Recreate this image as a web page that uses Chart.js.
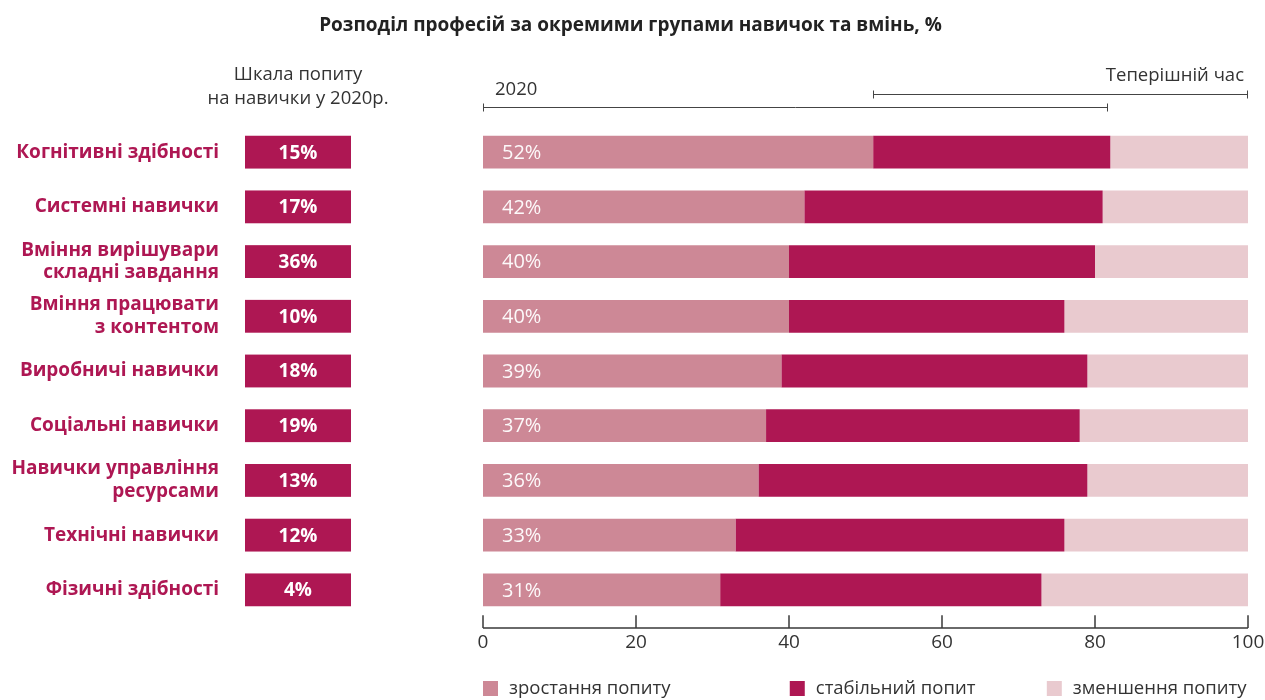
<!DOCTYPE html>
<html>
<head>
<meta charset="utf-8">
<script src="https://cdn.jsdelivr.net/npm/chart.js@4/dist/chart.umd.min.js"></script>
<style>
  html, body { margin: 0; background: #fff; }
</style>
</head>
<body>
<canvas id="chart" width="1265" height="700"></canvas>
<script>
/* data */
const categories = [
  'Когнітивні здібності',
  'Системні навички',
  ['Вміння вирішувари', 'складні завдання'],
  ['Вміння працювати', 'з контентом'],
  'Виробничі навички',
  'Соціальні навички',
  ['Навички управління', 'ресурсами'],
  'Технічні навички',
  'Фізичні здібності'
];
const growth       = [51, 42, 40, 40, 39, 37, 36, 33, 31];
const growthLabels = ['52%', '42%', '40%', '40%', '39%', '37%', '36%', '33%', '31%'];
const stable       = [31, 39, 40, 36, 40, 41, 43, 43, 42];
const decline      = [18, 19, 20, 24, 21, 22, 21, 24, 27];
const demand2020   = [15, 17, 36, 10, 18, 19, 13, 12, 4];
const seriesNames  = ['зростання попиту', 'стабільний попит', 'зменшення попиту'];
const xTicks       = [0, 20, 40, 60, 80, 100];
const span2020     = [0, 81.7];
const spanNow      = [51, 100];

const COLOR = {
  growth : '#cd8896',
  stable : '#ae1753',
  decline: '#e9cacf',
  label  : '#ae1753',
  text   : '#333333'
};
const FONT = '"Open Sans", sans-serif';

/* bits chart.js has no element for: demand boxes, header, brackets, axis, legend */
const extras = {
  id: 'extras',
  afterDraw(chart) {
    const { ctx, chartArea: a, scales: { x } } = chart;
    const bars = chart.getDatasetMeta(0).data;
    ctx.save();
    ctx.textBaseline = 'middle';

    // value labels inside the first segment
    ctx.font = `20px ${FONT}`;
    ctx.fillStyle = 'rgba(255,255,255,0.95)';
    ctx.textAlign = 'left';
    bars.forEach((b, i) => ctx.fillText(growthLabels[i], x.getPixelForValue(0) + 19, b.y + 1));

    // 2020 demand boxes
    const boxL = 245, boxW = 106;
    bars.forEach((b, i) => {
      ctx.fillStyle = COLOR.stable;
      ctx.fillRect(boxL, b.y - b.height / 2, boxW, b.height);
      ctx.fillStyle = '#fff';
      ctx.font = `bold 19px ${FONT}`;
      ctx.textAlign = 'center';
      ctx.fillText(demand2020[i] + '%', boxL + boxW / 2, b.y + 1);
    });

    // column header
    ctx.fillStyle = COLOR.text;
    ctx.font = `18.5px ${FONT}`;
    ctx.fillText('Шкала попиту', boxL + boxW / 2, a.top - 50);
    ctx.fillText('на навички у 2020р.', boxL + boxW / 2, a.top - 26);

    // brackets
    ctx.strokeStyle = '#444';
    ctx.lineWidth = 1;
    const bracket = (span, yy) => {
      const x0 = Math.round(x.getPixelForValue(span[0])) + 0.5;
      const x1 = Math.round(x.getPixelForValue(span[1])) - 0.5;
      yy = Math.round(yy) + 0.5;
      ctx.beginPath();
      ctx.moveTo(x0, yy); ctx.lineTo(x1, yy);
      ctx.moveTo(x0, yy - 4); ctx.lineTo(x0, yy + 4);
      ctx.moveTo(x1, yy - 4); ctx.lineTo(x1, yy + 4);
      ctx.stroke();
    };
    bracket(span2020, a.top - 18);
    bracket(spanNow, a.top - 31);
    ctx.textAlign = 'left';
    ctx.fillText('2020', x.getPixelForValue(span2020[0]) + 12, a.top - 35);
    ctx.textAlign = 'right';
    ctx.fillText('Теперішній час', x.getPixelForValue(spanNow[1]) - 4, a.top - 49);

    // x axis: baseline with upward ticks
    const base = Math.round(a.bottom + 11);
    ctx.strokeStyle = '#3a3a3a';
    ctx.lineWidth = 1.5;
    ctx.beginPath();
    ctx.moveTo(x.getPixelForValue(0), base);
    ctx.lineTo(x.getPixelForValue(100), base);
    x.ticks.forEach(t => {
      const px = Math.round(x.getPixelForValue(t.value));
      ctx.moveTo(px, a.bottom - 2);
      ctx.lineTo(px, base);
    });
    ctx.stroke();

    // legend
    const legendX = [0, 40.1, 73.7];
    const legendC = [COLOR.growth, COLOR.stable, COLOR.decline];
    const ly = chart.height - 11;
    ctx.textAlign = 'left';
    ctx.font = `18.5px ${FONT}`;
    seriesNames.forEach((name, i) => {
      const lx = x.getPixelForValue(legendX[i]);
      ctx.fillStyle = legendC[i];
      ctx.fillRect(lx, ly - 8, 15, 15);
      ctx.fillStyle = COLOR.text;
      ctx.fillText(name, lx + 26, ly);
    });
    ctx.restore();
  }
};

new Chart(document.getElementById('chart'), {
  type: 'bar',
  data: {
    labels: categories,
    datasets: [
      { label: seriesNames[0], data: growth,  backgroundColor: COLOR.growth },
      { label: seriesNames[1], data: stable,  backgroundColor: COLOR.stable },
      { label: seriesNames[2], data: decline, backgroundColor: COLOR.decline }
    ]
  },
  options: {
    indexAxis: 'y',
    responsive: false,
    animation: false,
    datasets: { bar: { categoryPercentage: 1, barPercentage: 0.6, borderWidth: 0 } },
    layout: { padding: { left: 13, right: 17, top: 0, bottom: 32 } },
    scales: {
      x: {
        stacked: true, min: 0, max: 100,
        afterBuildTicks: s => { s.ticks = xTicks.map(v => ({ value: v })); },
        afterFit: s => { s.paddingLeft = 0; s.paddingRight = 0; },
        grid: { display: false, drawTicks: false },
        border: { display: false },
        ticks: { padding: 14, color: COLOR.text, maxRotation: 0, font: { family: FONT, size: 19 } }
      },
      y: {
        stacked: true,
        afterFit: s => { s.width = 470; s.paddingTop = 0; s.paddingBottom = 0; },
        grid: { display: false, drawTicks: false },
        border: { display: false },
        ticks: {
          padding: 264, color: COLOR.label, autoSkip: false,
          font: { family: FONT, size: 19, weight: 'bold', lineHeight: 1.2 }
        }
      }
    },
    plugins: {
      legend: { display: false },
      tooltip: { enabled: false },
      title: {
        display: true,
        text: 'Розподіл професій за окремими групами навичок та вмінь, %',
        color: '#222',
        font: { family: FONT, size: 19, weight: 'bold' },
        padding: { top: 14, bottom: 88 }
      }
    }
  },
  plugins: [extras]
});
</script>
</body>
</html>
